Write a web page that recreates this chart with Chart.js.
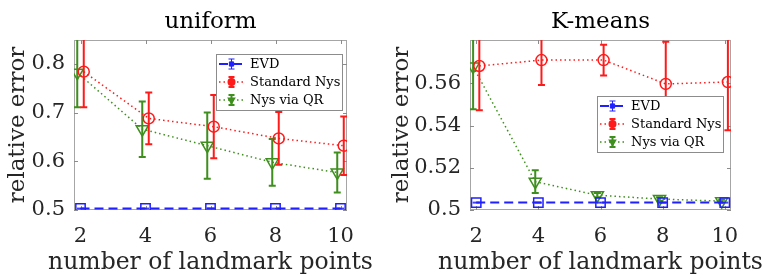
<!DOCTYPE html>
<html>
<head>
<meta charset="utf-8">
<script src="https://cdn.jsdelivr.net/npm/chart.js@4.4.0/dist/chart.umd.min.js"></script>
<style>
body { margin: 0; background: #fff; width: 768px; height: 280px; overflow: hidden; display: flex; }
.panel { width: 384px; height: 280px; }
</style>
</head>
<body>
<div class="panel"><canvas id="uniform" width="384" height="280"></canvas></div>
<div class="panel"><canvas id="kmeans" width="384" height="280"></canvas></div>
<script>
const landmarks = [2, 4, 6, 8, 10];
const xTicks = [2, 4, 6, 8, 10];
const seriesNames = ['EVD', 'Standard Nys', 'Nys via QR'];
const xTitle = 'number of landmark points';
const yTitle = 'relative error';
const stdShift = 0.1;   // standard Nys drawn slightly right of the landmark count
const qrShift = -0.1;   // Nys via QR drawn slightly left

// uniform sampling
const uniformEvd = [0.503, 0.503, 0.503, 0.503, 0.503];
const uniformEvdErr = [0.0008, 0.0008, 0.0008, 0.0008, 0.0008];
const uniformStd = [0.784, 0.688, 0.671, 0.647, 0.632];
const uniformStdErr = [0.073, 0.053, 0.065, 0.054, 0.060];
const uniformQr = [0.782, 0.666, 0.632, 0.598, 0.577];
const uniformQrErr = [0.071, 0.057, 0.068, 0.048, 0.041];
const uniformYTicks = [0.5, 0.6, 0.7, 0.8];
const uniformYLabels = ['0.5', '0.6', '0.7', '0.8'];

// K-means sampling
const kmeansEvd = [0.5035, 0.5035, 0.5035, 0.5035, 0.5035];
const kmeansEvdErr = [0.0002, 0.0002, 0.0002, 0.0002, 0.0002];
const kmeansStd = [0.5682, 0.571, 0.571, 0.5597, 0.5606];
const kmeansStdErr = [0.021, 0.0118, 0.0073, 0.02, 0.0228];
const kmeansQr = [0.5679, 0.5134, 0.507, 0.5052, 0.5042];
const kmeansQrErr = [0.0202, 0.0054, 0.001, 0.0008, 0.0006];
const kmeansYTicks = [0.5, 0.52, 0.54, 0.56];
const kmeansYLabels = ['0.5', '0.52', '0.54', '0.56'];

const FONT = "'DejaVu Serif', serif";
const TEXT = '#262626';
const BLUE = '#1f1fff';
const RED = '#ff1a1a';
const GREEN = '#3f8f1f';

function pts(vals, shift) {
    return vals.map((v, i) => ({ x: landmarks[i] + shift, y: v }));
}

const errorBars = {
    id: 'errorBars',
    beforeDatasetDraw(chart, args) {
        const ds = chart.data.datasets[args.index];
        if (!ds.errors) return;
        const ctx = chart.ctx, a = chart.chartArea;
        const x = chart.scales.x, y = chart.scales.y;
        ctx.save();
        ctx.beginPath();
        ctx.rect(a.left, a.top, a.right - a.left, a.bottom - a.top);
        ctx.clip();
        ctx.strokeStyle = ds.borderColor;
        ctx.lineWidth = ds.errorWidth;
        ctx.setLineDash([]);
        ds.data.forEach((p, i) => {
            const px = x.getPixelForValue(p.x);
            const top = y.getPixelForValue(p.y + ds.errors[i]);
            const bot = y.getPixelForValue(p.y - ds.errors[i]);
            ctx.beginPath();
            ctx.moveTo(px, top); ctx.lineTo(px, bot);
            ctx.moveTo(px - 3.5, top); ctx.lineTo(px + 3.5, top);
            ctx.moveTo(px - 3.5, bot); ctx.lineTo(px + 3.5, bot);
            ctx.stroke();
        });
        ctx.restore();
    }
};

// matlab style box with inward ticks on all four sides
const frame = {
    id: 'frame',
    beforeDatasetsDraw(chart) {
        const ctx = chart.ctx, a = chart.chartArea;
        ctx.save();
        ctx.strokeStyle = '#a6a6a6';
        ctx.lineWidth = 1;
        ctx.strokeRect(a.left + 0.5, a.top + 0.5, a.right - a.left - 1, a.bottom - a.top - 1);
        ctx.strokeStyle = '#8c8c8c';
        ctx.beginPath();
        chart.scales.x.ticks.forEach(t => {
            const px = Math.round(chart.scales.x.getPixelForValue(t.value)) + 0.5;
            ctx.moveTo(px, a.bottom); ctx.lineTo(px, a.bottom - 4);
            ctx.moveTo(px, a.top); ctx.lineTo(px, a.top + 4);
        });
        chart.scales.y.ticks.forEach(t => {
            const py = Math.round(chart.scales.y.getPixelForValue(t.value)) + 0.5;
            ctx.moveTo(a.left, py); ctx.lineTo(a.left + 4, py);
            ctx.moveTo(a.right, py); ctx.lineTo(a.right - 4, py);
        });
        ctx.stroke();
        // x axis title is wider than the axis, so chart.js would squeeze it
        ctx.font = '23.5px ' + FONT;
        ctx.fillStyle = TEXT;
        ctx.textAlign = 'center';
        ctx.textBaseline = 'alphabetic';
        ctx.fillText(xTitle, (a.left + a.right) / 2, 269);
        ctx.restore();
    }
};

const boxLegend = {
    id: 'boxLegend',
    afterDraw(chart, args, opts) {
        const ctx = chart.ctx, a = chart.chartArea;
        const w = 127, h = 57;
        const left = a.right - opts.inset - w, top = a.top + opts.offset;
        ctx.save();
        ctx.fillStyle = '#fff';
        ctx.fillRect(left, top, w, h);
        ctx.strokeStyle = '#8c8c8c';
        ctx.lineWidth = 1;
        ctx.strokeRect(left + 0.5, top + 0.5, w - 1, h - 1);
        ctx.font = '13px ' + FONT;
        ctx.textBaseline = 'middle';
        chart.data.datasets.forEach((ds, i) => {
            const cy = top + 10 + i * 18;
            const cx = left + 15.5;
            ctx.strokeStyle = ds.borderColor;
            ctx.lineWidth = ds.borderWidth;
            ctx.setLineDash(ds.borderDash);
            ctx.beginPath();
            ctx.moveTo(left + 3, cy); ctx.lineTo(left + 28, cy);
            ctx.stroke();
            ctx.setLineDash([]);
            ctx.lineWidth = ds.errorWidth;
            ctx.beginPath();
            ctx.moveTo(cx, cy - 5); ctx.lineTo(cx, cy + 5);
            ctx.moveTo(cx - 3, cy - 5); ctx.lineTo(cx + 3, cy - 5);
            ctx.moveTo(cx - 3, cy + 5); ctx.lineTo(cx + 3, cy + 5);
            ctx.stroke();
            Chart.helpers.drawPoint(ctx, {
                pointStyle: ds.pointStyle, radius: 3, rotation: ds.pointRotation || 0,
                borderWidth: 1.5
            }, cx, cy);
            ctx.fillStyle = ds.borderColor;
            ctx.fill();
            ctx.fillStyle = '#000';
            ctx.fillText(seriesNames[i], left + 34, cy + 0.5);
        });
        ctx.restore();
    }
};

function makeChart(id, title, evd, evdErr, std, stdErr, qr, qrErr, yMax, yTicks, yLabels, yWidth, legendPos) {
    const font = size => ({ family: FONT, size: size, weight: 'normal' });
    return new Chart(document.getElementById(id), {
        type: 'line',
        data: {
            datasets: [
                {
                    label: seriesNames[0], data: pts(evd, 0), errors: evdErr, errorWidth: 1,
                    borderColor: BLUE, borderWidth: 2, borderDash: [9, 5],
                    pointStyle: 'rect', pointRadius: 6.6, pointBorderWidth: 1.5,
                    pointBackgroundColor: 'rgba(0,0,0,0)', pointBorderColor: BLUE
                },
                {
                    label: seriesNames[1], data: pts(std, stdShift), errors: stdErr, errorWidth: 2,
                    borderColor: RED, borderWidth: 1.5, borderDash: [1.5, 3],
                    pointStyle: 'circle', pointRadius: 5.5, pointBorderWidth: 1.5,
                    pointBackgroundColor: 'rgba(0,0,0,0)', pointBorderColor: RED
                },
                {
                    label: seriesNames[2], data: pts(qr, qrShift), errors: qrErr, errorWidth: 2,
                    borderColor: GREEN, borderWidth: 1.5, borderDash: [1.5, 3],
                    pointStyle: 'triangle', pointRotation: 180, pointRadius: 7, pointBorderWidth: 1.5,
                    pointBackgroundColor: 'rgba(0,0,0,0)', pointBorderColor: GREEN
                }
            ]
        },
        options: {
            responsive: false,
            animation: false,
            layout: { padding: { left: 0, right: 37, top: 0, bottom: 0 } },
            plugins: {
                legend: { display: false },
                tooltip: { enabled: false },
                title: {
                    display: true, text: title, font: font(23), color: '#000',
                    padding: { top: 8.5, bottom: 3.9 }, fullSize: false
                },
                boxLegend: legendPos
            },
            scales: {
                x: {
                    type: 'linear', min: 1.8, max: 10.2,
                    afterBuildTicks: s => { s.ticks = xTicks.map(v => ({ value: v })); },
                    afterFit: s => { s.height = 70; },
                    grid: { display: false, drawTicks: false },
                    border: { display: false },
                    ticks: { font: font(21), color: TEXT, padding: 14, maxRotation: 0, callback: v => String(v) },
                    title: { display: false }
                },
                y: {
                    min: 0.5, max: yMax,
                    afterBuildTicks: s => { s.ticks = yTicks.map(v => ({ value: v })); },
                    afterFit: s => { s.width = yWidth; },
                    grid: { display: false, drawTicks: false },
                    border: { display: false },
                    ticks: { font: font(21), color: TEXT, padding: 9, callback: v => yLabels[yTicks.indexOf(v)] },
                    title: {
                        display: true, text: yTitle, font: font(23), color: TEXT,
                        padding: { top: 4, bottom: 0 }
                    }
                }
            }
        },
        plugins: [frame, errorBars, boxLegend]
    });
}

makeChart('uniform', 'uniform', uniformEvd, uniformEvdErr, uniformStd, uniformStdErr,
    uniformQr, uniformQrErr, 0.849, uniformYTicks, uniformYLabels, 74, { inset: 4, offset: 14 });
makeChart('kmeans', 'K-means', kmeansEvd, kmeansEvdErr, kmeansStd, kmeansStdErr,
    kmeansQr, kmeansQrErr, 0.5805, kmeansYTicks, kmeansYLabels, 86, { inset: 7, offset: 56 });
</script>
</body>
</html>
